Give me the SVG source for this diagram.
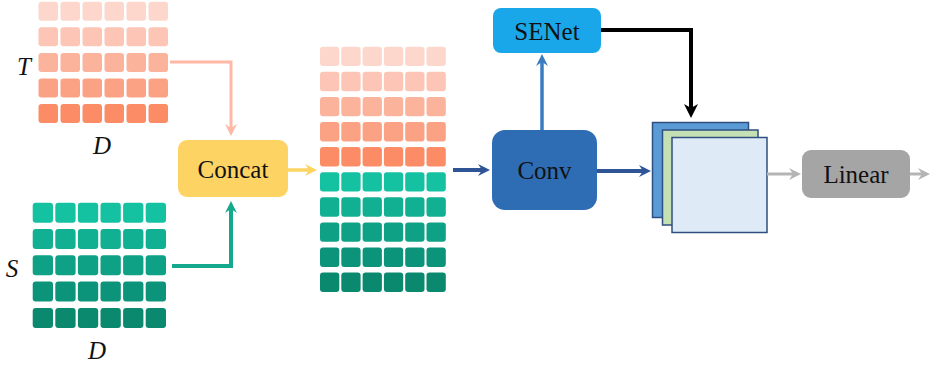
<svg xmlns="http://www.w3.org/2000/svg" width="931" height="370" viewBox="0 0 931 370">
<style>
.t1{fill:#FDD6CC}.t2{fill:#FDC5B5}.t3{fill:#FCB39C}.t4{fill:#FCA284}.t5{fill:#FB8C66}
.s1{fill:#14C2A2}.s2{fill:#11B092}.s3{fill:#0FA185}.s4{fill:#0C947A}.s5{fill:#0A896F}
.lbl{font-family:"Liberation Serif","Times New Roman",serif;font-size:25px;fill:#111;text-anchor:middle}
.it{font-family:"Liberation Serif","Times New Roman",serif;font-style:italic;font-size:25px;fill:#111;text-anchor:middle}
.cn{fill:none}
</style>
<defs>
<marker id="aS" markerUnits="userSpaceOnUse" markerWidth="12" markerHeight="12" refX="4" refY="6" orient="auto"><path d="M0,0 L12,6 L0,12 L4,6 z" fill="#FFB8A5"/></marker>
<marker id="aT" markerUnits="userSpaceOnUse" markerWidth="12" markerHeight="12" refX="4" refY="6" orient="auto"><path d="M0,0 L12,6 L0,12 L4,6 z" fill="#14A98C"/></marker>
<marker id="aY" markerUnits="userSpaceOnUse" markerWidth="12" markerHeight="12" refX="4" refY="6" orient="auto"><path d="M0,0 L12,6 L0,12 L4,6 z" fill="#FCD462"/></marker>
<marker id="aB" markerUnits="userSpaceOnUse" markerWidth="12" markerHeight="12" refX="4" refY="6" orient="auto"><path d="M0,0 L12,6 L0,12 L4,6 z" fill="#2F5597"/></marker>
<marker id="aL" markerUnits="userSpaceOnUse" markerWidth="12" markerHeight="12" refX="4" refY="6" orient="auto"><path d="M0,0 L12,6 L0,12 L4,6 z" fill="#3A7CC1"/></marker>
<marker id="aK" markerUnits="userSpaceOnUse" markerWidth="14" markerHeight="14" refX="4" refY="7" orient="auto"><path d="M0,0 L14,7 L0,14 L4,7 z" fill="#000"/></marker>
<marker id="aG" markerUnits="userSpaceOnUse" markerWidth="12" markerHeight="12" refX="4" refY="6" orient="auto"><path d="M0,0 L12,6 L0,12 L4,6 z" fill="#B4B4B4"/></marker>
<g id="rowT"><rect x="0" y="0" width="19.5" height="19" rx="3"/><rect x="22" y="0" width="19.5" height="19" rx="3"/><rect x="44" y="0" width="19.5" height="19" rx="3"/><rect x="66" y="0" width="19.5" height="19" rx="3"/><rect x="88" y="0" width="19.5" height="19" rx="3"/><rect x="110" y="0" width="19.5" height="19" rx="3"/></g>
<g id="rowS"><rect x="0" y="0" width="20.3" height="20" rx="3"/><rect x="22.6" y="0" width="20.3" height="20" rx="3"/><rect x="45.2" y="0" width="20.3" height="20" rx="3"/><rect x="67.8" y="0" width="20.3" height="20" rx="3"/><rect x="90.4" y="0" width="20.3" height="20" rx="3"/><rect x="113" y="0" width="20.3" height="20" rx="3"/></g>
<g id="rowM"><rect x="0" y="0" width="19.3" height="19.4" rx="3"/><rect x="21.3" y="0" width="19.3" height="19.4" rx="3"/><rect x="42.6" y="0" width="19.3" height="19.4" rx="3"/><rect x="63.9" y="0" width="19.3" height="19.4" rx="3"/><rect x="85.2" y="0" width="19.3" height="19.4" rx="3"/><rect x="106.5" y="0" width="19.3" height="19.4" rx="3"/></g>
</defs>

<g id="node-T">
<use href="#rowT" x="38.5" y="1.7" class="t1"/>
<use href="#rowT" x="38.5" y="27.3" class="t2"/>
<use href="#rowT" x="38.5" y="53" class="t3"/>
<use href="#rowT" x="38.5" y="78.5" class="t4"/>
<use href="#rowT" x="38.5" y="104" class="t5"/>
<text class="it" x="24" y="75">T</text>
<text class="it" x="102" y="154">D</text>
</g>

<g id="node-S">
<use href="#rowS" x="32.7" y="202.7" class="s1"/>
<use href="#rowS" x="32.7" y="229" class="s2"/>
<use href="#rowS" x="32.7" y="255.3" class="s3"/>
<use href="#rowS" x="32.7" y="281.6" class="s4"/>
<use href="#rowS" x="32.7" y="307.9" class="s5"/>
<text class="it" x="12" y="277">S</text>
<text class="it" x="97" y="359">D</text>
</g>

<g id="node-concat">
<rect x="178" y="140" width="110" height="57" rx="9" fill="#FDD463"/>
<text class="lbl" x="233" y="177.5">Concat</text>
</g>

<g id="node-stack">
<use href="#rowM" x="320" y="46.7" class="t1"/>
<use href="#rowM" x="320" y="71.8" class="t2"/>
<use href="#rowM" x="320" y="96.9" class="t3"/>
<use href="#rowM" x="320" y="122" class="t4"/>
<use href="#rowM" x="320" y="147.1" class="t5"/>
<use href="#rowM" x="320" y="172.2" class="s1"/>
<use href="#rowM" x="320" y="197.3" class="s2"/>
<use href="#rowM" x="320" y="222.4" class="s3"/>
<use href="#rowM" x="320" y="247.5" class="s4"/>
<use href="#rowM" x="320" y="272.6" class="s5"/>
</g>

<g id="node-conv">
<rect x="492" y="130" width="105" height="80" rx="13" fill="#2E6DB4"/>
<text class="lbl" x="544.5" y="178.5">Conv</text>
</g>

<g id="node-senet">
<rect x="493" y="8" width="108" height="45" rx="8" fill="#1AA7EA"/>
<text class="lbl" x="547" y="39.5">SENet</text>
</g>

<g id="node-features">
<rect x="652.5" y="122.5" width="96" height="95" fill="#5B9BD5" stroke="#2F4F80" stroke-width="1.5"/>
<rect x="662.5" y="130" width="95.5" height="95" fill="#C5E0B4" stroke="#2F4F80" stroke-width="1.5"/>
<rect x="672" y="137.5" width="95" height="95" fill="#DEEBF7" stroke="#2F4F80" stroke-width="1.5"/>
</g>

<g id="node-linear">
<rect x="802" y="150" width="108" height="48" rx="9" fill="#A5A5A5"/>
<text class="lbl" x="856" y="182.5">Linear</text>
</g>

<g id="connectors" class="cn">
<path d="M170,62 H231 V128" stroke="#FFB8A5" stroke-width="3" fill="none" marker-end="url(#aS)"/>
<path d="M172,266 H231 V209" stroke="#14A98C" stroke-width="4" fill="none" marker-end="url(#aT)"/>
<path d="M288,170 H309" stroke="#FCD462" stroke-width="3.5" fill="none" marker-end="url(#aY)"/>
<path d="M453,170 H482" stroke="#2F5597" stroke-width="4" fill="none" marker-end="url(#aB)"/>
<path d="M542,130 V62" stroke="#3A7CC1" stroke-width="3.5" fill="none" marker-end="url(#aL)"/>
<path d="M601,30 H691 V108" stroke="#000" stroke-width="4" fill="none" marker-end="url(#aK)"/>
<path d="M597,171 H643" stroke="#2F5597" stroke-width="4" fill="none" marker-end="url(#aB)"/>
<path d="M767,174 H793" stroke="#B4B4B4" stroke-width="3" fill="none" marker-end="url(#aG)"/>
<path d="M910,174 H922" stroke="#B4B4B4" stroke-width="3" fill="none" marker-end="url(#aG)"/>
</g>
</svg>
